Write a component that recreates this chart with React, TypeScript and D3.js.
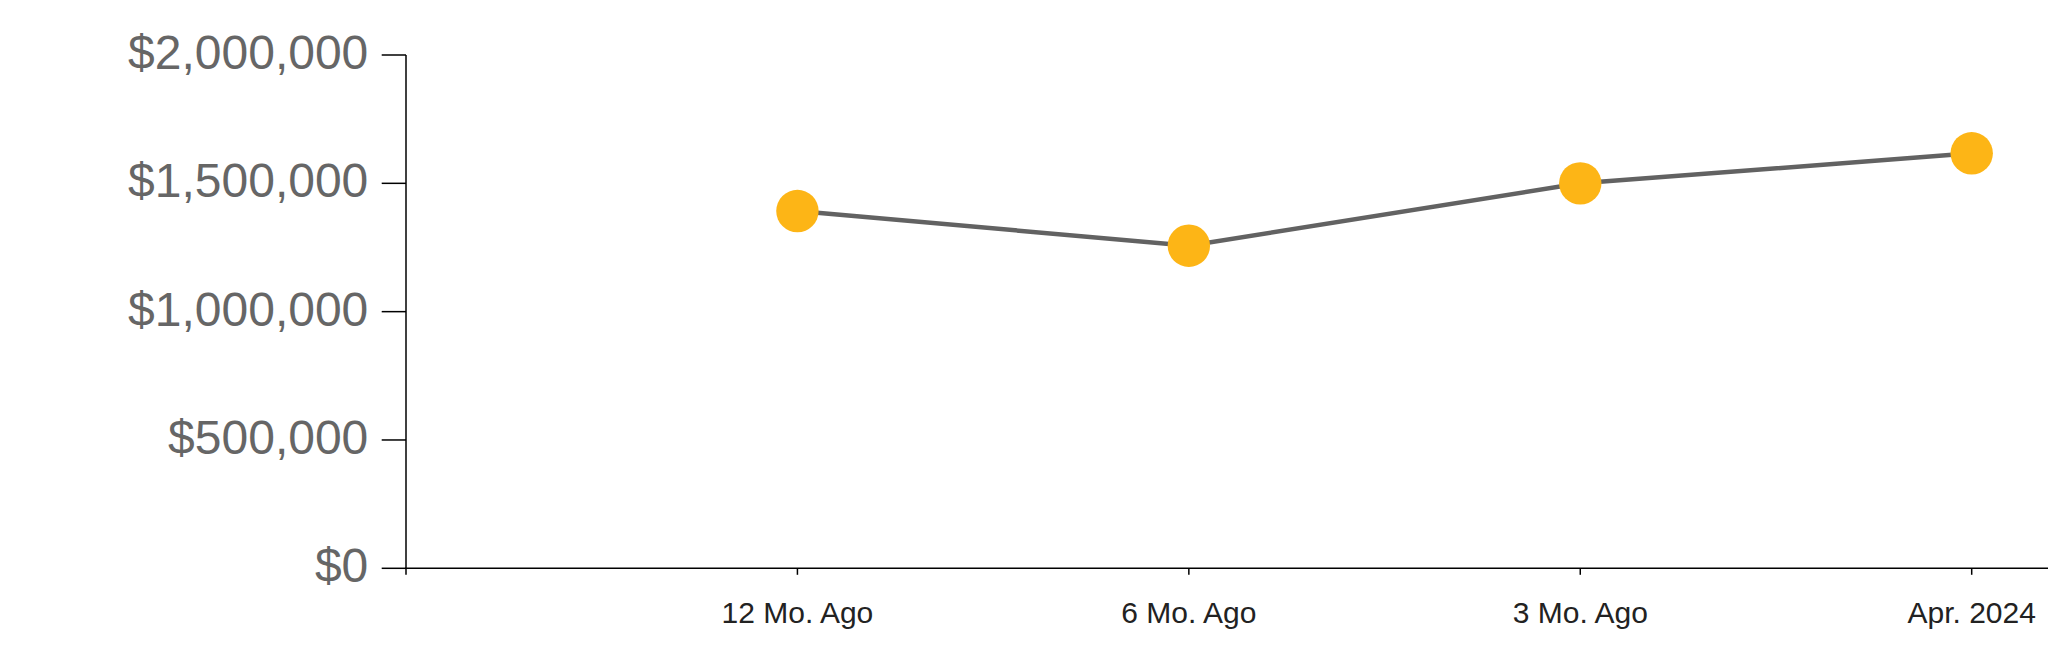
import React, { useEffect } from "react";
import * as d3 from "d3";

const categories = ["12 Mo. Ago", "6 Mo. Ago", "3 Mo. Ago", "Apr. 2024"];
const values = [1392000, 1257000, 1500000, 1617000];
const yTicks = [0, 500000, 1000000, 1500000, 2000000];

const W = 2048;
const H = 663;
const LEFT = 406;
const TOP = 55;
const BOTTOM = 568.3;

export default function App() {
  useEffect(() => {
    document.body.style.margin = "0";
  }, []);

  const x = d3
    .scalePoint<string>()
    .domain(["", ...categories])
    .range([LEFT, 1971.7]);
  const y = d3.scaleLinear().domain([0, 2000000]).range([BOTTOM, TOP]);
  const fmt = (v: number) => "$" + d3.format(",")(v);

  const line = d3
    .line<number>()
    .x((_, i) => x(categories[i]) as number)
    .y((d) => y(d));

  return (
    <svg width={W} height={H} style={{ display: "block" }}>
      {/* x axis */}
      <g>
        <path
          d={`M${LEFT},${BOTTOM + 6.5}V${BOTTOM}H${W}`}
          fill="none"
          stroke="#000"
          strokeWidth={1.5}
        />
        {categories.map((c) => (
          <g key={c} transform={`translate(${x(c)},${BOTTOM})`}>
            <line y2={6.5} stroke="#000" strokeWidth={1.5} />
            <text
              y={55}
              textAnchor="middle"
              fontFamily="'Liberation Sans', Arial, sans-serif"
              fontSize={30}
              fill="#222"
            >
              {c}
            </text>
          </g>
        ))}
      </g>
      {/* y axis */}
      <g>
        <path
          d={`M${LEFT},${TOP}V${BOTTOM}`}
          fill="none"
          stroke="#000"
          strokeWidth={1.5}
        />
        {yTicks.map((t) => (
          <g key={t} transform={`translate(${LEFT},${y(t)})`}>
            <line x2={-24.3} stroke="#000" strokeWidth={1.5} />
            <text
              x={-37.7}
              y={14}
              textAnchor="end"
              fontFamily="'Liberation Sans', Arial, sans-serif"
              fontSize={48}
              fill="#666"
            >
              {fmt(t)}
            </text>
          </g>
        ))}
      </g>
      {/* line */}
      <path
        d={line(values) || ""}
        fill="none"
        stroke="#626262"
        strokeWidth={4.5}
      />
      {values.map((v, i) => (
        <circle
          key={categories[i]}
          cx={x(categories[i])}
          cy={y(v)}
          r={21.2}
          fill="#FDB516"
        />
      ))}
    </svg>
  );
}
